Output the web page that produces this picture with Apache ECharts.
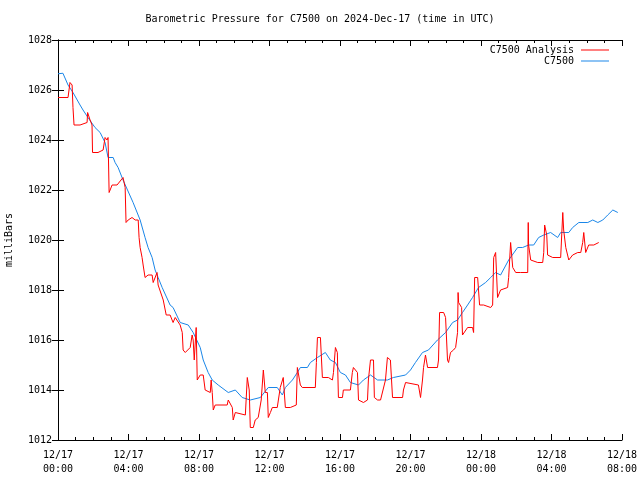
<!DOCTYPE html>
<html><head><meta charset="utf-8">
<script src="https://cdn.jsdelivr.net/npm/echarts@6/dist/echarts.min.js"></script>
<style>html,body{margin:0;padding:0;background:#fff}#c{width:640px;height:480px}</style>
</head><body><div id="c"></div>
<script>
// hours since 2024-12-17 00:00 UTC
const xTickLabels = ['12/17\n00:00','12/17\n04:00','12/17\n08:00','12/17\n12:00','12/17\n16:00','12/17\n20:00','12/18\n00:00','12/18\n04:00','12/18\n08:00'];
const yTicks = [1012,1014,1016,1018,1020,1022,1024,1026,1028];

const c7500Hours = [0.00,0.28,0.57,0.85,1.25,1.42,1.70,2.10,2.39,2.67,2.84,3.13,3.24,3.41,3.69,4.26,4.66,4.94,5.11,5.34,5.51,5.68,5.91,6.36,6.53,6.93,7.39,7.67,8.07,8.24,8.52,8.75,9.09,9.66,10.06,10.45,10.91,11.48,11.93,12.44,12.73,12.90,13.30,13.58,13.75,14.15,14.32,14.72,15.17,15.45,15.74,16.02,16.31,16.59,17.05,17.33,17.73,18.13,18.69,19.03,19.72,20.00,20.28,20.68,21.02,21.53,21.99,22.39,22.67,22.95,23.24,23.52,23.86,24.26,24.55,24.83,25.11,25.57,26.08,26.36,26.70,26.99,27.27,27.56,27.95,28.35,28.52,28.98,29.20,29.55,30.06,30.34,30.63,30.91,31.19,31.48,31.76];
const c7500Values = [1026.65,1026.67,1026.2,1025.9,1025.4,1025.2,1024.9,1024.5,1024.3,1023.9,1023.3,1023.3,1023.1,1022.9,1022.4,1021.5,1020.8,1020.1,1019.7,1019.3,1018.8,1018.5,1018.1,1017.4,1017.3,1016.7,1016.6,1016.3,1015.7,1015.2,1014.7,1014.4,1014.2,1013.9,1014.0,1013.7,1013.6,1013.7,1014.1,1014.1,1013.8,1014.1,1014.4,1014.7,1014.9,1014.9,1015.1,1015.3,1015.5,1015.2,1015.1,1014.7,1014.6,1014.3,1014.2,1014.4,1014.6,1014.4,1014.4,1014.5,1014.6,1014.8,1015.1,1015.5,1015.6,1016.0,1016.3,1016.7,1016.8,1017.1,1017.4,1017.7,1018.1,1018.3,1018.5,1018.7,1018.6,1019.2,1019.7,1019.7,1019.8,1019.8,1020.1,1020.2,1020.3,1020.1,1020.3,1020.3,1020.5,1020.7,1020.7,1020.8,1020.7,1020.8,1021.0,1021.2,1021.1];

const analysisHours = [0.00,0.57,0.68,0.80,0.85,0.91,1.25,1.36,1.65,1.68,1.82,1.93,1.96,2.27,2.56,2.67,2.78,2.84,2.90,3.07,3.35,3.69,3.81,3.86,3.98,4.20,4.38,4.55,4.60,4.66,4.77,4.83,4.94,5.11,5.34,5.40,5.62,5.68,5.97,6.14,6.36,6.53,6.65,6.93,7.05,7.10,7.22,7.50,7.61,7.67,7.73,7.84,7.90,8.07,8.24,8.35,8.64,8.69,8.75,8.81,8.92,9.60,9.66,9.89,9.94,10.06,10.63,10.74,10.85,10.91,11.08,11.19,11.36,11.53,11.65,11.76,11.88,11.93,12.05,12.16,12.44,12.61,12.78,12.90,13.18,13.52,13.58,13.75,13.86,14.60,14.66,14.72,14.89,15.00,15.34,15.57,15.63,15.74,15.85,15.91,16.14,16.19,16.59,16.70,16.76,16.99,17.05,17.33,17.56,17.61,17.73,17.90,17.95,18.13,18.30,18.58,18.69,18.86,18.98,19.55,19.60,19.72,20.45,20.57,20.68,20.74,20.85,20.97,21.53,21.59,21.65,21.88,21.99,22.10,22.16,22.27,22.44,22.56,22.67,22.70,22.73,22.90,22.95,23.01,23.24,23.52,23.58,23.64,23.81,23.92,24.15,24.55,24.66,24.72,24.83,24.94,25.11,25.51,25.57,25.68,25.80,25.97,26.25,26.65,26.68,26.70,26.82,27.22,27.50,27.56,27.61,27.73,27.78,28.07,28.52,28.64,28.69,28.81,28.98,29.20,29.49,29.66,29.77,29.83,29.94,30.11,30.40,30.68];
const analysisValues = [1025.7,1025.7,1026.3,1026.2,1025.3,1024.6,1024.6,1024.6,1024.7,1025.1,1024.8,1024.6,1023.5,1023.5,1023.6,1024.1,1024.0,1024.1,1021.9,1022.2,1022.2,1022.5,1022.1,1020.7,1020.8,1020.9,1020.8,1020.8,1020.1,1019.7,1019.3,1019.0,1018.5,1018.6,1018.6,1018.3,1018.7,1018.2,1017.6,1017.0,1017.0,1016.7,1016.9,1016.6,1016.3,1015.6,1015.5,1015.7,1016.2,1016.0,1015.2,1016.5,1014.4,1014.6,1014.6,1014.0,1013.9,1014.4,1013.9,1013.2,1013.4,1013.4,1013.6,1013.3,1012.8,1013.1,1013.0,1014.5,1014.0,1012.5,1012.5,1012.8,1012.9,1013.6,1014.8,1013.9,1013.9,1012.9,1013.1,1013.3,1013.3,1014.1,1014.5,1013.3,1013.3,1013.4,1014.9,1014.2,1014.1,1014.1,1015.1,1016.1,1016.1,1014.5,1014.5,1014.4,1014.7,1015.7,1015.5,1013.7,1013.7,1014.0,1014.0,1014.7,1014.9,1014.7,1013.6,1013.5,1013.6,1014.4,1015.2,1015.2,1013.7,1013.6,1013.6,1014.4,1015.3,1015.2,1013.7,1013.7,1014.0,1014.3,1014.2,1013.7,1014.4,1014.9,1015.4,1014.9,1014.9,1015.2,1017.1,1017.1,1016.9,1015.2,1015.1,1015.5,1015.6,1015.7,1016.3,1017.9,1017.5,1017.3,1016.2,1016.2,1016.5,1016.5,1016.3,1018.5,1018.5,1017.4,1017.4,1017.3,1017.4,1019.3,1019.5,1017.7,1018.0,1018.1,1018.5,1019.9,1018.9,1018.7,1018.7,1018.7,1020.7,1019.8,1019.2,1019.1,1019.1,1019.5,1020.6,1020.2,1019.4,1019.3,1019.3,1021.1,1020.4,1019.7,1019.2,1019.4,1019.5,1019.5,1019.9,1020.3,1019.5,1019.8,1019.8,1019.9];

const zip = (a, b) => a.map((v, i) => [v, b[i]]);
const FONT = 'DejaVu Sans Mono';
const txt = {fontFamily: FONT, fontSize: 10, color: '#000'};
const axisLineStyle = {lineStyle: {color: '#000', width: 1}};
const LINE_ICON = 'path://M0,0L28,0L28,1L0,1Z';

const chart = echarts.init(document.getElementById('c'), null, {renderer: 'canvas'});
chart.setOption({
  animation: false,
  backgroundColor: '#fff',
  title: {text: 'Barometric Pressure for C7500 on 2024-Dec-17 (time in UTC)', left: 'center', top: 9,
    textStyle: {fontFamily: FONT, fontSize: 10, fontWeight: 'normal', color: '#000'}},
  legend: {orient: 'vertical', right: 26, top: 40, align: 'right', itemGap: 1, itemWidth: 28, itemHeight: 12,
    textStyle: Object.assign({}, txt, {padding: [0, 2, 0, 0]}),
    data: [{name: 'C7500 Analysis', icon: LINE_ICON}, {name: 'C7500', icon: LINE_ICON}]},
  grid: {left: 58, right: 18, top: 40, bottom: 40, containLabel: false, outerBoundsMode: 'none'},
  xAxis: [
    {type: 'value', min: 0, max: 32, interval: 4, axisLine: axisLineStyle,
     axisTick: {inside: true, length: 6, lineStyle: {color: '#000'}},
     minorTick: {show: true, splitNumber: 4, length: 3, lineStyle: {color: '#000'}},
     splitLine: {show: false},
     axisLabel: Object.assign({}, txt, {margin: 8, lineHeight: 14, formatter: v => xTickLabels[Math.round(v / 4)]})},
    {type: 'value', position: 'top', min: 0, max: 32, interval: 4, axisLine: axisLineStyle,
     axisTick: {inside: true, length: 6, lineStyle: {color: '#000'}},
     minorTick: {show: true, splitNumber: 4, length: 3, lineStyle: {color: '#000'}},
     splitLine: {show: false}, axisLabel: {show: false}}
  ],
  yAxis: [
    {type: 'value', min: 1012, max: 1028, interval: 2, axisLine: axisLineStyle,
     axisTick: {inside: true, length: 6, lineStyle: {color: '#000'}},
     splitLine: {show: false},
     name: 'milliBars', nameLocation: 'middle', nameGap: 44, nameRotate: 90, nameTextStyle: txt,
     axisLabel: Object.assign({}, txt, {margin: 6, formatter: v => String(yTicks[Math.round((v - 1012) / 2)])})},
    {type: 'value', position: 'right', min: 1012, max: 1028, interval: 2, axisLine: axisLineStyle,
     axisTick: {inside: true, length: 6, lineStyle: {color: '#000'}},
     splitLine: {show: false}, axisLabel: {show: false}}
  ],
  series: [
    {name: 'C7500 Analysis', type: 'line', data: zip(analysisHours, analysisValues), symbol: 'none',
     lineStyle: {color: '#ff0000', width: 1}, itemStyle: {color: '#ff0000'}, z: 3},
    {name: 'C7500', type: 'line', data: zip(c7500Hours, c7500Values), symbol: 'none',
     lineStyle: {color: '#1a86e8', width: 1}, itemStyle: {color: '#1a86e8'}, z: 2}
  ]
});
</script></body></html>
